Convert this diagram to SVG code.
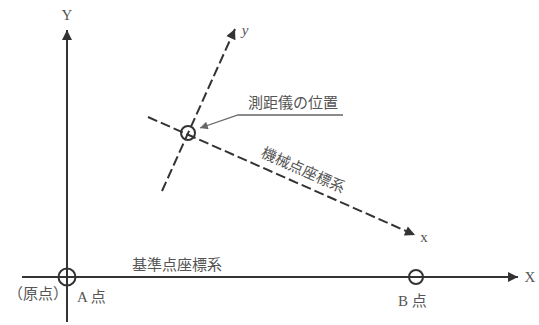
<svg xmlns="http://www.w3.org/2000/svg" width="539" height="325" viewBox="0 0 539 325">
<style>
.axis{stroke:#333;stroke-width:2;fill:none}
.dash{stroke:#333;stroke-width:2;fill:none;stroke-dasharray:10 4}
.circ{stroke:#333;stroke-width:2;fill:none}
.lead{stroke:#666;stroke-width:1.3;fill:none}
.t{font-family:"Liberation Serif","Noto Sans CJK JP",serif;fill:#555;font-size:15px;dominant-baseline:central}
</style>
<defs>
<marker id="ah" viewBox="0 0 10 10" refX="10" refY="5" markerWidth="7" markerHeight="5" orient="auto" markerUnits="strokeWidth">
<path d="M0,0 L10,5 L0,10 z" fill="#333"/>
</marker>
<marker id="ahs" viewBox="0 0 10 10" refX="10" refY="5" markerWidth="8" markerHeight="6" orient="auto" markerUnits="strokeWidth">
<path d="M0,0 L10,5 L0,10 z" fill="#666"/>
</marker>
</defs>
<g id="connectors">
<line class="axis" x1="67" y1="322" x2="67" y2="30" marker-end="url(#ah)"/>
<line class="axis" x1="22" y1="277" x2="518" y2="277" marker-end="url(#ah)"/>
<line class="dash" x1="162" y1="191" x2="235" y2="29" marker-end="url(#ah)"/>
<line class="dash" x1="148" y1="117" x2="415" y2="235" marker-end="url(#ah)"/>
<polyline class="lead" points="343,115 238,115 200,128" marker-end="url(#ahs)"/>
</g>
<g id="origin">
<circle class="circ" cx="67" cy="277" r="8.5"/>
<text class="t" x="8" y="294">（原点）</text>
<text class="t" x="77" y="297">A 点</text>
</g>
<g id="pointB">
<circle class="circ" cx="416" cy="277" r="7"/>
<text class="t" x="398" y="301">B 点</text>
</g>
<g id="instrument">
<circle class="circ" cx="188" cy="133" r="7"/>
<text class="t" x="248" y="103">測距儀の位置</text>
</g>
<g id="labels">
<text class="t" x="67" y="15" text-anchor="middle">Y</text>
<text class="t" x="530" y="277" text-anchor="middle">X</text>
<text class="t" x="245" y="30" text-anchor="middle" font-style="italic">y</text>
<text class="t" x="424" y="237" text-anchor="middle">x</text>
<text class="t" x="132" y="265">基準点座標系</text>
<text class="t" x="0" y="0" transform="translate(262,152) rotate(24)" font-size="14">機械点座標系</text>
</g>
</svg>
